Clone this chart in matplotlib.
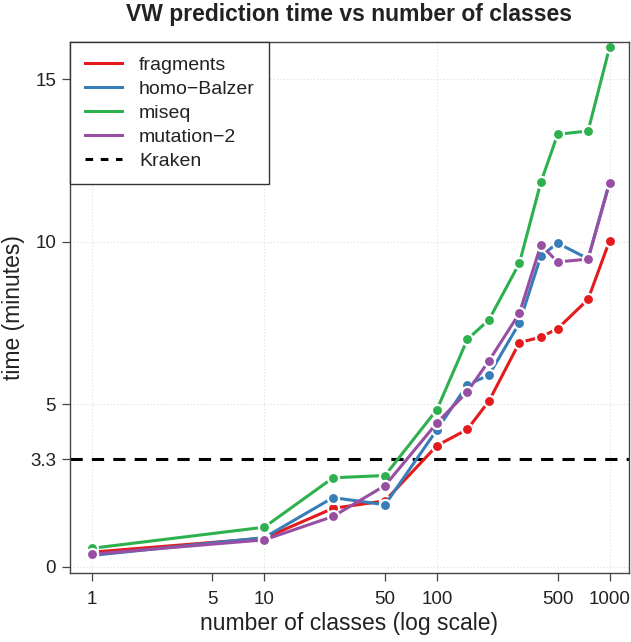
import matplotlib
matplotlib.use("Agg")
import matplotlib.pyplot as plt
from matplotlib.lines import Line2D

plt.rcParams['font.family'] = ['Liberation Sans', 'DejaVu Sans']

# number of classes
n_classes = [1, 10, 25, 50, 100, 150, 200, 300, 400, 500, 750, 1000]

# prediction time in minutes
fragments = [0.44, 0.87, 1.79, 2.02, 3.72, 4.22, 5.09, 6.89, 7.06, 7.32, 8.22, 10.03]
homo_balzer = [0.34, 0.89, 2.12, 1.90, 4.21, 5.59, 5.89, 7.49, 9.56, 9.95, 9.47, 11.84]
miseq = [0.56, 1.21, 2.73, 2.80, 4.83, 6.99, 7.59, 9.33, 11.83, 13.30, 13.40, 15.98]
mutation_2 = [0.38, 0.82, 1.54, 2.49, 4.42, 5.38, 6.33, 7.79, 9.90, 9.37, 9.46, 11.80]
kraken = 3.3

series = [
    ("fragments", fragments, "#E41A1C"),
    ("homo\u2212Balzer", homo_balzer, "#377EB8"),
    ("miseq", miseq, "#2DB04E"),
    ("mutation\u22122", mutation_2, "#984EA3"),
]

x_ticks = [1, 5, 10, 50, 100, 500, 1000]
y_ticks = [0, 3.3, 5, 10, 15]

fig = plt.figure(figsize=(6.31, 6.42), dpi=100)
ax = fig.add_axes([70 / 631, 1 - 573 / 642, 559 / 631, 531 / 642])

# dotted grid
for g in [1, 10, 100, 1000]:
    ax.axvline(g, color="#dddddd", lw=0.8, ls=(0, (1, 2)), zorder=0)
for g in [0, 5, 10, 15]:
    ax.axhline(g, color="#dddddd", lw=0.8, ls=(0, (1, 2)), zorder=0)

ax.axhline(kraken, color="black", lw=2.2, ls=(0, (4, 3)), zorder=1)

for name, vals, col in series:
    ax.plot(n_classes, vals, color=col, lw=2.2, marker="o", ms=8,
            mfc=col, mec="white", mew=1.6, zorder=2)

ax.set_xscale("log")
ax.set_xlim(0.749, 1295)
ax.set_ylim(-0.2, 16.14)

ax.set_xticks(x_ticks)
ax.set_xticklabels([str(t) for t in x_ticks])
ax.minorticks_off()
ax.set_yticks(y_ticks)
ax.set_yticklabels(["0", "3.3", "5", "10", "15"])
ax.tick_params(axis="both", length=6, width=0.9, color="#444444",
               labelsize=13.5, labelcolor="#222222", pad=4)
ax.tick_params(axis="x", pad=7)

for s in ax.spines.values():
    s.set_color("#444444")
    s.set_linewidth(1.0)

ax.set_title("VW prediction time vs number of classes", fontsize=16.5,
             fontweight="bold", color="#222222", pad=15)
ax.set_xlabel("number of classes (log scale)", fontsize=16.5, color="#222222", labelpad=3)
ax.set_ylabel("time (minutes)", fontsize=16.5, color="#222222", labelpad=4)

handles = [Line2D([], [], color=c, lw=2.2) for _, _, c in series]
handles.append(Line2D([], [], color="black", lw=2.2, ls=(0, (2.5, 2.5))))
labels = [s[0] for s in series] + ["Kraken"]
leg = ax.legend(handles, labels, loc="upper left", bbox_to_anchor=(0, 1),
                borderaxespad=0, fancybox=False, framealpha=1,
                edgecolor="#333333", fontsize=14, handlelength=1.9,
                handletextpad=0.9, labelspacing=0.32, borderpad=0.75)
leg.get_frame().set_linewidth(1.0)
for t in leg.get_texts():
    t.set_color("#222222")

fig.savefig("out.png", dpi=100)
